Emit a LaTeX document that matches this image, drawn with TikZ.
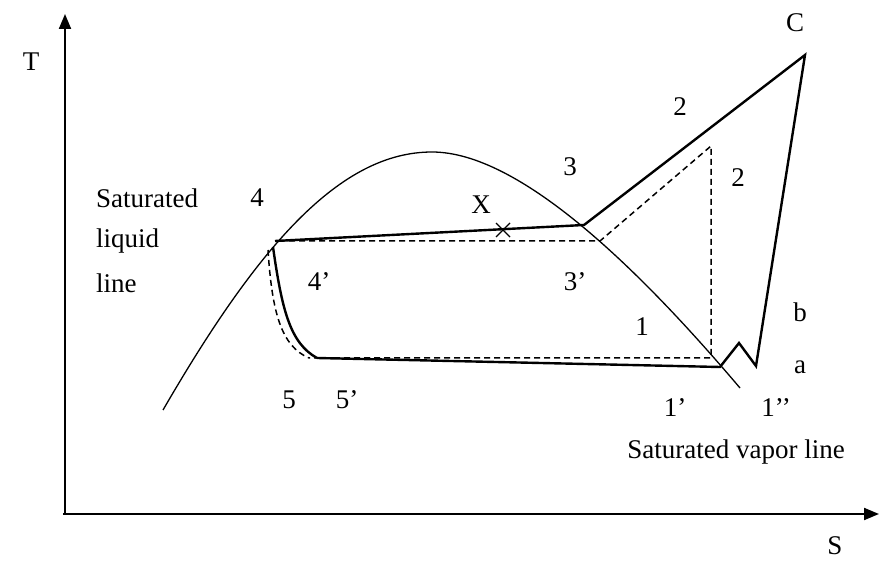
\documentclass[tikz,border=0pt]{standalone}
\usepackage{fontspec}
\setmainfont{Liberation Serif}
\usetikzlibrary{arrows.meta,calc}
\begin{document}
\begin{tikzpicture}[x=1pt,y=-1pt,
  lbl/.style={font=\fontsize{27}{30}\selectfont, inner sep=0pt, anchor=center},
  thick line/.style={line width=2.4pt},
  thin line/.style={line width=1.3pt},
  dash line/.style={line width=1.5pt, dash pattern=on 6pt off 4pt},
  axis/.style={line width=2pt, -{Triangle[length=15pt,width=12pt]}}]
\useasboundingbox (0,0) rectangle (879,561);
% axes
\coordinate (O) at (65,514);
\coordinate (Ytop) at (65,14);
\coordinate (Xend) at (879,514);
\draw[axis] (O) -- (Ytop);
\draw[axis] (63,514) -- (Xend);
% points
\coordinate (p4) at (275,241);
\coordinate (p3) at (584,225);
\coordinate (pC) at (805,55);
\coordinate (p1p) at (720,367);
\coordinate (pz1) at (739,343);
\coordinate (pz2) at (756,366);
\coordinate (p5) at (317,358);
\coordinate (p5d) at (309,358);
\coordinate (p3d) at (600,241);
\coordinate (p2d) at (711,146);
\coordinate (p1d) at (711,358);
\coordinate (pX) at (503,230);
% dome
\draw[thin line] (163,410) .. controls (258,246) and (340,152) .. (432,152)
  .. controls (520,152) and (640,270) .. (740,388);
% solid cycle
\draw[thick line] (p4) -- (p3) -- (pC) -- (pz2) -- (pz1) -- (p1p) -- (p5);
\draw[thick line] (273,247) .. controls (282,310) and (290,343) .. (p5);
% dashed cycle
\draw[dash line] (279,241) -- (p3d) -- (p2d) -- (p1d) -- (p5d);
\draw[dash line] (268,250) .. controls (272,312) and (281,346) .. (p5d);
% X mark
\draw[thin line] ($(pX)+(-7,-7)$) -- ($(pX)+(7,7)$);
\draw[thin line] ($(pX)+(-7,7)$) -- ($(pX)+(7,-7)$);
% labels
\node[lbl] (T) at (31,62) {T};
\node[lbl] (S) at (835,546) {S};
\node[lbl] (C) at (795,23) {C};
\node[lbl] (l2a) at (680,107) {2};
\node[lbl] (l2b) at (738,178) {2};
\node[lbl] (l3) at (570,167) {3};
\node[lbl] (lX) at (481,205) {X};
\node[lbl, anchor=west] (sat1) at (96,198) {Saturated};
\node[lbl, anchor=west] (sat2) at (96,241) {liquid};
\node[lbl, anchor=west] (sat3) at (96,283) {line};
\node[lbl] (l4) at (257,198) {4};
\node[lbl] (l4p) at (319,282) {4’};
\node[lbl] (l3p) at (575,282) {3’};
\node[lbl] (l1) at (642,327) {1};
\node[lbl] (lb) at (800,312) {b};
\node[lbl] (la) at (800,367) {a};
\node[lbl] (l5) at (289,400) {5};
\node[lbl] (l5p) at (347,400) {5’};
\node[lbl] (l1p) at (675,408) {1’};
\node[lbl] (l1pp) at (776,408) {1’’};
\node[lbl] (svl) at (736,452) {Saturated vapor line};
\end{tikzpicture}
\end{document}
